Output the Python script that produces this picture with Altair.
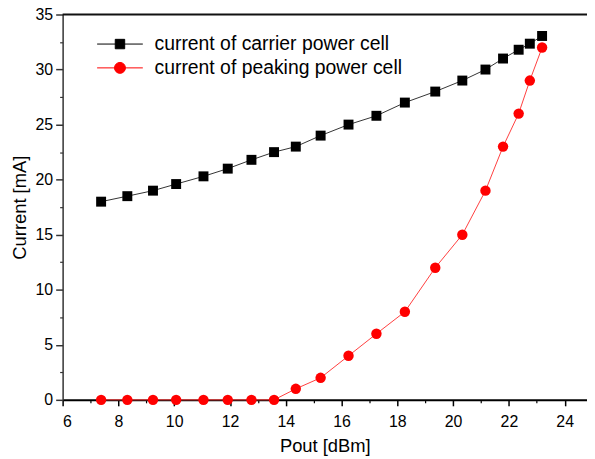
import altair as alt
import pandas as pd

pout = [7.38, 8.32, 9.24, 10.07, 11.05, 11.92, 12.77, 13.58, 14.36, 15.25, 16.25,
        17.25, 18.27, 19.36, 20.33, 21.16, 21.79, 22.35, 22.75, 23.19]
carrier = [18.0, 18.5, 19.0, 19.6, 20.3, 21.0, 21.8, 22.5, 23.0, 24.0, 25.0,
           25.8, 27.0, 28.0, 29.0, 30.0, 31.0, 31.8, 32.35, 33.05]
peaking = [0, 0, 0, 0, 0, 0, 0, 0, 1.0, 2.0, 4.0,
           6.0, 8.0, 12.0, 15.0, 19.0, 23.0, 26.0, 29.0, 32.0]
series_names = ["current of carrier power cell", "current of peaking power cell"]
series_colors = ["#000000", "#ff0000"]
line_colors = ["#333333", "#ff4040"]
x_major = [6, 8, 10, 12, 14, 16, 18, 20, 22, 24]
x_minor = [7, 9, 11, 13, 15, 17, 19, 21, 23]
y_major = [0, 5, 10, 15, 20, 25, 30, 35]
y_minor = [2.5, 7.5, 12.5, 17.5, 22.5, 27.5, 32.5]

rows = []
for i, x in enumerate(pout):
    rows.append({"pout": x, "current": carrier[i], "series": series_names[0]})
for i, x in enumerate(pout):
    rows.append({"pout": x, "current": peaking[i], "series": series_names[1]})
df = pd.DataFrame(rows)

FONT = "Liberation Sans"
xscale = alt.Scale(domain=[6, 24.8], nice=False, zero=False)
yscale = alt.Scale(domain=[0, 35], nice=False)

x_main = alt.X("pout:Q", scale=xscale, axis=alt.Axis(
    values=x_major, title="Pout [dBm]", grid=False, domainColor="#000000", domainWidth=2,
    tickColor="#000000", tickWidth=1.5, tickSize=6, labelFont=FONT, labelFontSize=16,
    labelColor="#000000", labelPadding=8, titleFont=FONT, titleFontSize=18.5,
    titleFontWeight="normal", titleColor="#000000", titlePadding=7, orient="bottom"))
y_main = alt.Y("current:Q", scale=yscale, axis=alt.Axis(
    values=y_major, title="Current [mA]", grid=False, domainColor="#333333", domainWidth=1.5,
    tickColor="#333333", tickWidth=1.5, tickSize=7, labelFont=FONT, labelFontSize=16,
    labelColor="#000000", labelPadding=3, titleFont=FONT, titleFontSize=18.5,
    titleFontWeight="normal", titleColor="#000000", titlePadding=6, orient="left"))

color_scale = alt.Scale(domain=series_names, range=series_colors)

base = alt.Chart(df)

line_c = base.transform_filter(alt.datum.series == series_names[0]).mark_line(
    strokeWidth=1, color=line_colors[0]).encode(x=x_main, y=y_main)

xn = alt.X("pout:Q", scale=xscale, axis=None)
yn = alt.Y("current:Q", scale=yscale, axis=None)

line_p = base.transform_filter(alt.datum.series == series_names[1]).mark_line(
    strokeWidth=1, color=line_colors[1]).encode(x=xn, y=yn)

squares = base.transform_filter(alt.datum.series == series_names[0]).mark_square(
    size=100, opacity=1, color="#000000").encode(x=xn, y=yn)
circles = base.transform_filter(alt.datum.series == series_names[1]).mark_circle(
    size=110, opacity=1, color="#ff0000").encode(x=xn, y=yn)

sq_path = "M-4.6,0H4.6M-0.95,-0.95H0.95V0.95H-0.95Z"
ci_path = "M-4.6,0H4.6M1.1,0A1.1,1.1,0,1,1,-1.1,0A1.1,1.1,0,1,1,1.1,0Z"
legend = alt.Legend(
    title=None, orient="none", legendX=30, legendY=20, labelFont=FONT, labelFontSize=19.5,
    labelColor="#000000", labelLimit=400, symbolSize=100, symbolOpacity=1,
    symbolStrokeWidth=1, labelOffset=25, symbolOffset=18, rowPadding=3)
legend_layer = base.mark_point(filled=False, opacity=0, strokeWidth=1).encode(
    x=xn, y=yn,
    color=alt.Color("series:N", scale=color_scale, legend=legend),
    fill=alt.Fill("series:N", scale=color_scale, legend=legend),
    shape=alt.Shape("series:N", scale=alt.Scale(domain=series_names, range=[sq_path, ci_path]),
                    legend=legend),
)

minor = base.mark_point(opacity=0).encode(
    x=alt.X("pout:Q", scale=xscale, axis=alt.Axis(
        values=x_minor, labels=False, domain=False, grid=False, title=None,
        tickColor="#000000", tickWidth=1.2, tickSize=3, orient="bottom")),
    y=alt.Y("current:Q", scale=yscale, axis=alt.Axis(
        values=y_minor, labels=False, domain=False, grid=False, title=None,
        tickColor="#333333", tickWidth=1.2, tickSize=3, orient="left")),
)

top_rule = alt.Chart(pd.DataFrame({"v": [35]})).mark_rule(
    color="#111111", strokeWidth=2).encode(y=alt.Y("v:Q", scale=yscale, axis=None))

chart = alt.layer(line_c, line_p, squares, circles, legend_layer, minor, top_rule).resolve_axis(
    x="independent", y="independent"
).properties(
    width=528, height=388,
    autosize=alt.AutoSizeParams(type="none"),
    padding={"left": 55, "top": 5, "right": 0, "bottom": 55},
).configure_view(stroke=None).configure_legend(
    labelFont=FONT, labelFontSize=19.5, labelColor="#000000", labelLimit=400
)

chart.save("out.html", embed_options={"renderer": "svg", "actions": False})
